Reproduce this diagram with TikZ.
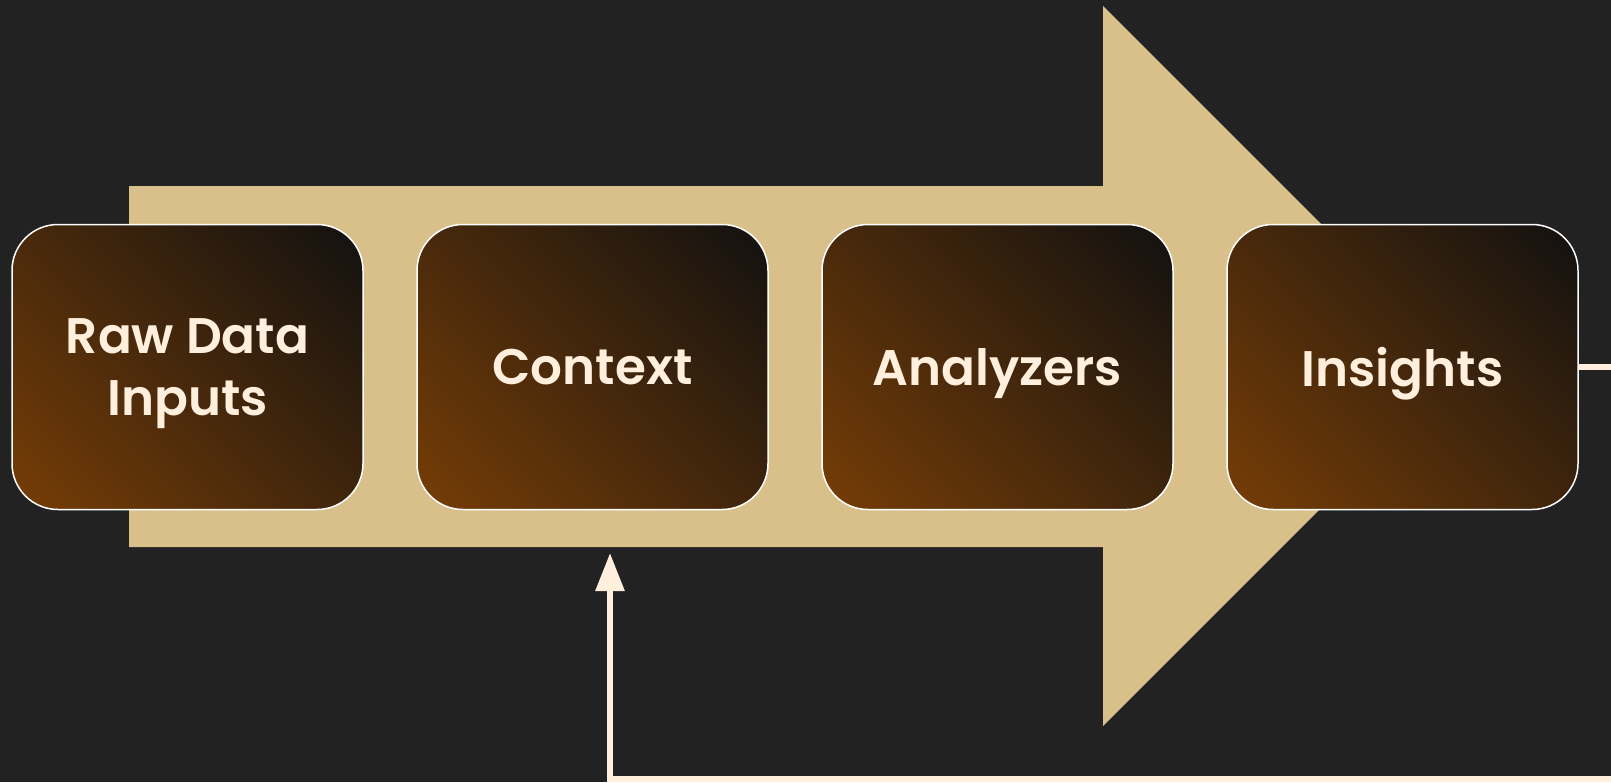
\documentclass[tikz,border=0pt]{standalone}
\usepackage{fontspec}
\setmainfont{Poppins}
\newfontfamily\stagefont{Poppins SemiBold}
\usetikzlibrary{positioning,arrows.meta}
\definecolor{bg}{HTML}{222222}
\definecolor{band}{HTML}{D9C08B}
\definecolor{cream}{HTML}{FFEFDC}
\definecolor{rust}{HTML}{763D06}
\definecolor{umber}{HTML}{44270C}
\definecolor{soot}{HTML}{121110}
\pgfdeclareverticalshading{stagefade}{100bp}{color(0bp)=(soot); color(15bp)=(soot);
  color(50bp)=(umber); color(85bp)=(rust); color(100bp)=(rust)}
\tikzset{
  stage/.style={draw=white, line width=1.5pt, rounded corners=46pt,
    minimum width=351pt, minimum height=285pt,
    shade, shading=stagefade, shading angle=135,
    text=cream, align=center, text depth=0pt,
    font=\fontsize{50}{62}\selectfont\stagefont},
  loop/.style={draw=cream, line width=6pt, -{Triangle[width=28pt,length=38pt]}}
}
\begin{document}
\begin{tikzpicture}[x=1pt,y=-1pt,node distance=405pt,on grid]
  \path[use as bounding box, fill=bg] (0,0) rectangle (1611,782);
  % big arrow behind the stages
  \fill[band] (129,186) -- (1103,186) -- (1103,6) -- (1463,366)
    -- (1103,726) -- (1103,547) -- (129,547) -- cycle;
  \node[stage] (b_0) at (187.5,367) {Raw Data\\Inputs};
  \node[stage] (b_1) [right=of b_0] {Context};
  \node[stage] (b_2) [right=of b_1] {Analyzers};
  \node[stage] (b_3) [right=of b_2] {Insights};
  % feedback line, runs out of the frame
  \coordinate (c_0) at (1640,779);
  \coordinate (c_1) at (610,779);
  \coordinate (c_2) at (610,553);
  \draw[loop] (b_3.east) -- (b_3.east -| c_0) -- (c_0) -- (c_1) -- (c_2);
\end{tikzpicture}
\end{document}
